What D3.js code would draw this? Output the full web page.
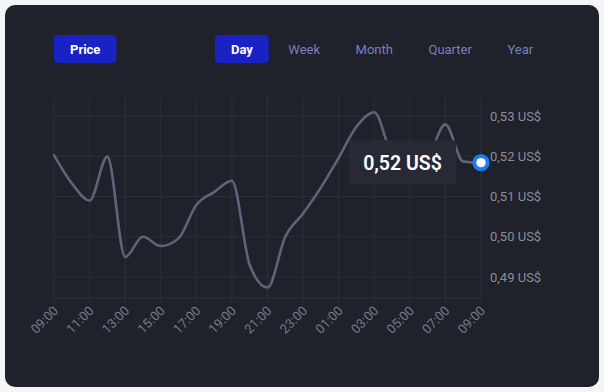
<!DOCTYPE html>
<html>
<head>
<meta charset="utf-8">
<script src="https://cdn.jsdelivr.net/npm/d3@7"></script>
<style>
  html, body { margin: 0; padding: 0; background: #f4f5f7; }
  svg { display: block; font-family: Roboto, "Noto Sans", sans-serif; }
</style>
</head>
<body>
<svg id="chart" width="604" height="392"></svg>
<script>
// ---- data ----
const hours = ["09:00","10:00","11:00","12:00","13:00","14:00","15:00","16:00","17:00","18:00","19:00","20:00","21:00","22:00","23:00","00:00","01:00","02:00","03:00","04:00","05:00","06:00","07:00","08:00","09:00"];
const prices = [0.5203,0.5133,0.5090,0.5199,0.4950,0.5000,0.4977,0.4996,0.5079,0.5111,0.5139,0.4930,0.4874,0.5000,0.5058,0.5122,0.5196,0.5273,0.5309,0.5203,0.5172,0.5196,0.5279,0.5187,0.5184];
const yTicks = [0.49, 0.50, 0.51, 0.52, 0.53];
const xTickIdx = [0,2,4,6,8,10,12,14,16,18,20,22,24];
const leftTabs = ["Price"];
const periodTabs = ["Day","Week","Month","Quarter","Year"];
const activePeriod = "Day";
const currency = "US$";

// ---- setup ----
const svg = d3.select("#chart");
const plot = { left: 54, right: 481, top: 97, bottom: 298 };

const locale = d3.formatLocale({ decimal: ",", thousands: ".", grouping: [3], currency: ["", ""] });
const fmt = v => locale.format(".2f")(v) + " " + currency;

// card
svg.append("rect").attr("x", 5).attr("y", 5).attr("width", 594).attr("height", 382)
  .attr("rx", 10).attr("fill", "#1f212b");

const x = d3.scaleLinear().domain([0, hours.length - 1]).range([plot.left, plot.right]);
const y = d3.scaleLinear().domain([0.4848, 0.5347]).range([plot.bottom, plot.top]);

const gridColor = "#2c2f3b";

// vertical grid
svg.append("g").selectAll("line").data(xTickIdx).join("line")
  .attr("x1", d => x(d)).attr("x2", d => x(d))
  .attr("y1", plot.top).attr("y2", plot.bottom + 5)
  .attr("stroke", gridColor).attr("stroke-width", 1);

// horizontal grid
svg.append("g").selectAll("line").data(yTicks).join("line")
  .attr("x1", plot.left).attr("x2", plot.right)
  .attr("y1", d => y(d)).attr("y2", d => y(d))
  .attr("stroke", gridColor).attr("stroke-width", 1);
svg.append("line").attr("x1", plot.left).attr("x2", plot.right)
  .attr("y1", plot.bottom).attr("y2", plot.bottom)
  .attr("stroke", gridColor).attr("stroke-width", 1);

// y axis labels
const yAxis = d3.axisRight(y).tickValues(yTicks).tickFormat(fmt).tickSize(0).tickPadding(9);
const gy = svg.append("g").attr("transform", `translate(${plot.right},0)`).call(yAxis);
gy.select(".domain").remove();
gy.selectAll("text").attr("fill", "#8a8d99").attr("font-size", 13)
  .attr("font-family", "Roboto, sans-serif");

// x axis labels
const xAxis = d3.axisBottom(x).tickValues(xTickIdx).tickFormat(i => hours[i]).tickSize(0);
const gx = svg.append("g").attr("transform", `translate(0,${plot.bottom})`).call(xAxis);
gx.select(".domain").remove();
gx.selectAll("text")
  .attr("fill", "#777a88").attr("font-size", 13)
  .attr("font-family", "Roboto, sans-serif")
  .attr("text-anchor", "end")
  .attr("y", 0).attr("dy", "0.71em")
  .attr("transform", "translate(-2,7) rotate(-45)");

// line
const line = d3.line().x((d, i) => x(i)).y(d => y(d)).curve(d3.curveMonotoneX);
svg.append("path").datum(prices).attr("d", line)
  .attr("fill", "none").attr("stroke", "#60647a").attr("stroke-width", 2.6)
  .attr("stroke-linecap", "round");

// end marker
const li = prices.length - 1;
const ex = x(li), ey = y(prices[li]);

// tooltip
const tip = svg.append("g");
const tipW = 107, tipH = 44;
tip.append("rect").attr("x", ex - 25 - tipW).attr("y", ey - tipH / 2 - 0.5)
  .attr("width", tipW).attr("height", tipH).attr("rx", 2).attr("fill", "#272a35");
tip.append("text").attr("x", ex - 25 - tipW / 2).attr("y", ey + 0.5)
  .attr("dy", "0.35em").attr("text-anchor", "middle")
  .attr("fill", "#ffffff").attr("font-size", 19.5).attr("font-weight", 600)
  .text(fmt(prices[li]));

svg.append("circle").attr("cx", ex).attr("cy", ey).attr("r", 8.6).attr("fill", "#1b7cf0");
svg.append("circle").attr("cx", ex).attr("cy", ey).attr("r", 4.7).attr("fill", "#ffffff");

// buttons
function drawTabs(list, startX, active) {
  const g = svg.append("g");
  let cx = startX;
  list.forEach(name => {
    const isActive = name === active;
    const t = g.append("text").attr("y", 49).attr("dy", "0.35em").attr("text-anchor", "middle")
      .attr("font-size", 13).attr("font-weight", isActive ? 700 : 400)
      .attr("fill", isActive ? "#ffffff" : "#7b7fc0").text(name);
    const tw = t.node().getComputedTextLength();
    const bw = tw + 32;
    if (isActive) {
      g.insert("rect", "text").attr("x", cx).attr("y", 35).attr("width", bw).attr("height", 28)
        .attr("rx", 4).attr("fill", "#1a22c6");
    }
    t.attr("x", cx + bw / 2);
    cx += bw + 3.5;
  });
}
drawTabs(leftTabs, 54, "Price");
drawTabs(periodTabs, 215, activePeriod);
</script>
</body>
</html>
